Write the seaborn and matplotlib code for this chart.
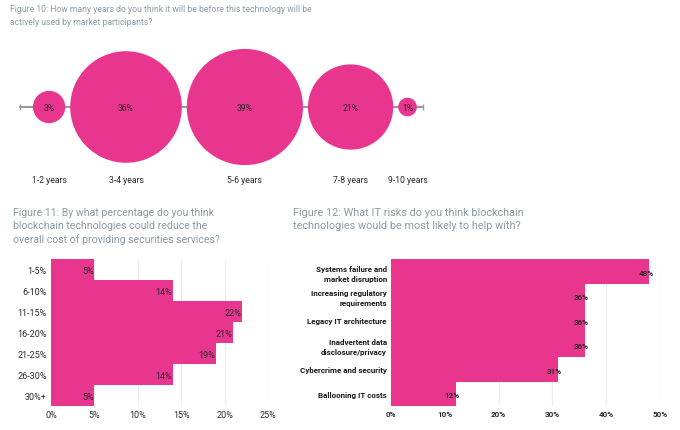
import numpy as np
import pandas as pd
import seaborn as sns
import matplotlib.pyplot as plt

# Figure 10 data
years = ['1-2 years', '3-4 years', '5-6 years', '7-8 years', '9-10 years']
years_pct = [3, 36, 39, 21, 1]

# Figure 11 data
cost_bands = ['1-5%', '6-10%', '11-15%', '16-20%', '21-25%', '26-30%', '30%+']
cost_pct = [5, 14, 22, 21, 19, 14, 5]

# Figure 12 data
risks = ['Systems failure and\nmarket disruption', 'Increasing regulatory\nrequirements',
         'Legacy IT architecture', 'Inadvertent data\ndisclosure/privacy',
         'Cybercrime and security', 'Ballooning IT costs']
risk_pct = [48, 36, 36, 36, 31, 12]

PINK = '#E8358E'
GREY = '#8C9AA4'
TXT = '#2a2a2a'
W, H = 680, 431

sns.set_theme(style='white')
plt.rcParams['font.family'] = ['Roboto', 'DejaVu Sans']

fig = plt.figure(figsize=(W / 100, H / 100), dpi=100)


def box(x0, y0, x1, y1):
    # pixel box -> figure fraction rect
    return [x0 / W, 1 - y1 / H, (x1 - x0) / W, (y1 - y0) / H]


# ---------- Figure 10: bubbles ----------
ax0 = fig.add_axes(box(0, 40, W, 200))

# bubble radius in pixels ~ sqrt of share, packed along the line with a small gap
radius = 9.3 * np.sqrt(np.array(years_pct))
gap = 5
centers = []
pos = 33
for r in radius:
    centers.append(pos + r)
    pos += 2 * r + gap
df10 = pd.DataFrame({'x': centers, 'y': 108, 'pct': years_pct, 'label': years})

ax0.plot([20, 423], [108, 108], color='#9a9a9a', lw=1.5, zorder=1)
ax0.plot([20, 423], [108, 108], ls='none', marker='|', ms=5, color='#9a9a9a', zorder=1)

smax = (0.72 * 2 * radius.max()) ** 2
sns.scatterplot(data=df10, x='x', y='y', size='pct', sizes=(0, smax), size_norm=(0, max(years_pct)),
                color=PINK, linewidth=0, legend=False, ax=ax0, zorder=2)
ax0.set_xlim(0, W)
ax0.set_ylim(200, 40)
ax0.axis('off')
for _, row in df10.iterrows():
    ax0.text(row['x'], row['y'] + 0.5, f"{row['pct']}%", ha='center', va='center', fontsize=6.2, color=TXT)
    ax0.text(row['x'], 181, row['label'], ha='center', va='center', fontsize=6.2, color=TXT)

fig.text(10 / W, 1 - 5 / H,
         'Figure 10: How many years do you think it will be before this technology will be\n'
         'actively used by market participants?',
         ha='left', va='top', fontsize=6.2, color=GREY, linespacing=1.6)

# ---------- Figure 11 ----------
ax1 = fig.add_axes(box(51, 260, 268, 407))
sns.barplot(x=cost_pct, y=cost_bands, orient='h', width=1, color=PINK, saturation=1,
            edgecolor=PINK, linewidth=0, ax=ax1, zorder=2)
ax1.set_xlim(0, 25)
ax1.set_xticks([0, 5, 10, 15, 20, 25])
ax1.set_xticklabels([f'{t}%' for t in [0, 5, 10, 15, 20, 25]])
ax1.grid(axis='x', color='#ececec', lw=0.8, zorder=0)
ax1.set_axisbelow(True)
for s in ax1.spines.values():
    s.set_visible(False)
ax1.tick_params(axis='both', length=0, labelsize=6.5, colors=TXT, pad=3)
ax1.set_xlabel('')
ax1.set_ylabel('')
for i, v in enumerate(cost_pct):
    ax1.text(v - 0.1, i + 0.05, f'{v}%', ha='right', va='center', fontsize=6.5, color=TXT)

fig.text(13 / W, 1 - 208 / H,
         'Figure 11: By what percentage do you think\n'
         'blockchain technologies could reduce the\n'
         'overall cost of providing securities services?',
         ha='left', va='top', fontsize=7.6, color=GREY, linespacing=1.35)

# ---------- Figure 12 ----------
ax2 = fig.add_axes(box(391, 260, 660, 407))
sns.barplot(x=risk_pct, y=risks, orient='h', width=1, color=PINK, saturation=1,
            edgecolor=PINK, linewidth=0, ax=ax2, zorder=2)
ax2.set_xlim(0, 50)
ax2.set_xticks([0, 10, 20, 30, 40, 50])
ax2.set_xticklabels([f'{t}%' for t in [0, 10, 20, 30, 40, 50]], fontweight='bold')
ax2.grid(axis='x', color='#ececec', lw=0.8, zorder=0)
ax2.set_axisbelow(True)
for s in ax2.spines.values():
    s.set_visible(False)
ax2.tick_params(axis='x', length=0, labelsize=5.8, colors=TXT, pad=3)
ax2.tick_params(axis='y', length=0, labelsize=5.8, colors='#1a1a1a', pad=3)
for lab in ax2.get_yticklabels():
    lab.set_fontweight('bold')
    lab.set_multialignment('right')
    lab.set_linespacing(1.5)
ax2.set_xlabel('')
ax2.set_ylabel('')
for i, v in enumerate(risk_pct):
    ax2.text(v + 0.8, i + 0.05, f'{v}%', ha='right', va='center', fontsize=5.8, color=TXT,
             fontweight='bold')

fig.text(293 / W, 1 - 208 / H,
         'Figure 12: What IT risks do you think blockchain\n'
         'technologies would be most likely to help with?',
         ha='left', va='top', fontsize=7.8, color=GREY, linespacing=1.35)

fig.savefig('out.png', dpi=100, facecolor='white')
